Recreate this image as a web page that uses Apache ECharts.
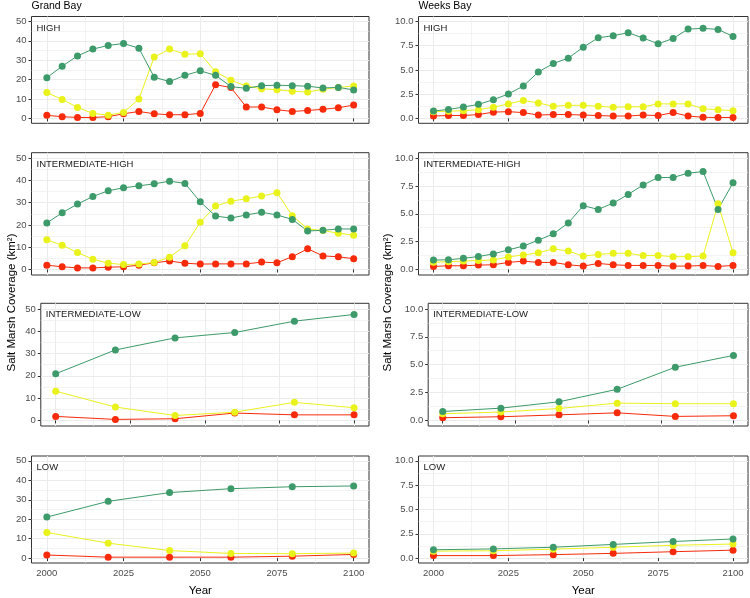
<!DOCTYPE html>
<html>
<head>
<meta charset="utf-8">
<script src="https://cdn.jsdelivr.net/npm/echarts@6/dist/echarts.min.js"></script>
<style>
html,body{margin:0;padding:0;background:#fff;}
#chart{width:750px;height:598px;}
</style>
</head>
<body>
<div id="chart"></div>
<script>
// ---------- DATA ----------
const yearsFine = [2000,2005,2010,2015,2020,2025,2030,2035,2040,2045,2050,2055,2060,2065,2070,2075,2080,2085,2090,2095,2100];
const yearsCoarse = [2000,2020,2040,2060,2080,2100];
const scenarios = ["HIGH","INTERMEDIATE-HIGH","INTERMEDIATE-LOW","LOW"];
const sites = ["Grand Bay","Weeks Bay"];

// Grand Bay
const gbHighGreen  = [21.0,26.9,32.2,35.7,37.6,38.6,36.2,21.2,19.0,22.2,24.5,22.2,16.4,15.5,16.9,17.1,16.9,16.6,15.7,16.0,14.7];
const gbHighYellow = [13.3,9.8,5.7,2.6,1.7,3.1,10.0,31.6,35.7,33.1,33.3,24.0,19.7,16.7,15.3,14.8,14.0,13.6,15.0,16.0,16.7];
const gbHighRed    = [1.6,0.9,0.5,0.5,0.9,2.4,3.6,2.4,1.9,1.9,2.6,17.4,15.9,5.9,5.9,4.5,3.6,4.1,4.7,5.5,6.9];

const gbIHGreen  = [20.9,25.5,29.4,32.8,35.4,36.7,37.6,38.5,39.7,38.7,30.4,24.0,23.1,24.5,25.7,24.5,22.5,17.3,17.6,18.2,18.2];
const gbIHYellow = [13.3,10.9,7.6,4.6,2.8,2.2,2.4,3.1,5.5,10.6,21.2,28.5,30.7,31.8,33.0,34.5,24.2,18.2,17.5,16.3,15.4];
const gbIHRed    = [1.9,1.2,0.7,0.7,1.0,1.2,1.9,3.0,3.8,2.8,2.4,2.5,2.5,2.5,3.3,3.0,5.7,9.3,6.1,5.7,4.8];

const gbILGreen  = [20.9,31.6,37.0,39.4,44.5,47.5];
const gbILYellow = [13.1,6.0,2.2,3.7,8.1,5.7];
const gbILRed    = [1.8,0.45,0.75,3.3,2.5,2.5];

const gbLowGreen  = [21.1,29.2,33.7,35.7,36.7,37.1];
const gbLowYellow = [13.2,7.7,3.9,2.4,2.3,2.6];
const gbLowRed    = [1.6,0.5,0.5,0.5,1.0,1.9];

// Weeks Bay
const wbHighGreen  = [0.76,0.93,1.17,1.45,1.93,2.52,3.34,4.79,5.66,6.21,7.34,8.31,8.52,8.83,8.28,7.69,8.24,9.20,9.28,9.17,8.45];
const wbHighYellow = [0.70,0.75,0.80,0.90,1.15,1.50,1.85,1.60,1.25,1.35,1.35,1.25,1.15,1.20,1.20,1.50,1.50,1.50,1.00,0.90,0.80];
const wbHighRed    = [0.25,0.30,0.30,0.40,0.65,0.70,0.60,0.35,0.40,0.40,0.35,0.30,0.25,0.25,0.35,0.30,0.60,0.25,0.12,0.10,0.10];

const wbIHGreen  = [0.84,0.87,1.00,1.16,1.40,1.76,2.10,2.63,3.20,4.18,5.73,5.40,5.97,6.75,7.60,8.27,8.27,8.66,8.80,5.40,7.79];
const wbIHYellow = [0.65,0.70,0.75,0.80,0.85,1.13,1.30,1.50,1.85,1.65,1.20,1.35,1.45,1.45,1.25,1.25,1.15,1.15,1.20,5.90,1.50];
const wbIHRed    = [0.27,0.33,0.33,0.39,0.42,0.63,0.75,0.63,0.63,0.42,0.30,0.54,0.42,0.36,0.36,0.36,0.30,0.30,0.36,0.27,0.36];

const wbILGreen  = [0.80,1.10,1.67,2.79,4.77,5.83];
const wbILYellow = [0.60,0.75,1.07,1.55,1.50,1.50];
const wbILRed    = [0.24,0.33,0.50,0.68,0.36,0.42];

const wbLowGreen  = [0.86,0.95,1.12,1.41,1.71,1.97];
const wbLowYellow = [0.72,0.76,0.92,1.12,1.32,1.45];
const wbLowRed    = [0.26,0.26,0.36,0.49,0.66,0.82];

// tick labels
const xTicks = [2000,2025,2050,2075,2100];
const xMinor = [2012.5,2037.5,2062.5,2087.5];
const gbYTicks = [0,10,20,30,40,50];
const gbYMinor = [5,15,25,35,45];
const wbYTicks = [0,2.5,5,7.5,10];
const wbYMinor = [1.25,3.75,6.25,8.75];

// ---------- LAYOUT ----------
const colors = {green:'#3d9a6a', yellow:'#eaf21c', red:'#f72a0a'};
const colRight = [369, 748];
const colLeft = [[31.5,31.5,40.8,31.5],[418.5,418.5,428.2,418.5]];
const rowTop = [16.5, 152.7, 303.3, 456];
const rowBottom = [123.3, 275, 426, 568];

const panels = [
  {site:0,row:0,years:yearsFine,g:gbHighGreen,y:gbHighYellow,r:gbHighRed},
  {site:0,row:1,years:yearsFine,g:gbIHGreen,y:gbIHYellow,r:gbIHRed},
  {site:0,row:2,years:yearsCoarse,g:gbILGreen,y:gbILYellow,r:gbILRed},
  {site:0,row:3,years:yearsCoarse,g:gbLowGreen,y:gbLowYellow,r:gbLowRed},
  {site:1,row:0,years:yearsFine,g:wbHighGreen,y:wbHighYellow,r:wbHighRed},
  {site:1,row:1,years:yearsFine,g:wbIHGreen,y:wbIHYellow,r:wbIHRed},
  {site:1,row:2,years:yearsCoarse,g:wbILGreen,y:wbILYellow,r:wbILRed},
  {site:1,row:3,years:yearsCoarse,g:wbLowGreen,y:wbLowYellow,r:wbLowRed}
];

const grid=[], xAxis=[], yAxis=[], series=[], title=[];
const labelColor = '#4d4d4d';
const gridColor = '#ebebeb';
const fontFamily = 'Liberation Sans, Arial, sans-serif';

panels.forEach((p, i) => {
  const gb = p.site === 0;
  const left = colLeft[p.site][p.row];
  grid.push({left: left, top: rowTop[p.row], width: colRight[p.site] - left, height: rowBottom[p.row] - rowTop[p.row],
    show: true, borderColor: '#333333', borderWidth: 1, backgroundColor: '#ffffff'});
  const yMin = gb ? -2.5 : -0.5, yMax = gb ? 52.5 : 10.5;
  const bottomRow = p.row === 3;
  xAxis.push({type:'value', gridIndex:i, min:1995, max:2105, position:'bottom',
    axisLine:{show:false},
    axisTick:{show:true, length:3, lineStyle:{color:'#333333'}, customValues:xTicks},
    axisLabel:{show:bottomRow, customValues:xTicks, color:labelColor, fontSize:9.5, fontFamily:fontFamily, margin:5,
      formatter: v => String(v)},
    splitLine:{show:true, lineStyle:{color:gridColor, width:1}},
    name: bottomRow ? 'Year' : '', nameLocation:'middle', nameGap:22,
    nameTextStyle:{color:'#000', fontSize:11.5, fontFamily:fontFamily}
  });
  xAxis.push({type:'value', gridIndex:i, min:1995, max:2105, position:'top',
    axisLine:{show:false}, axisTick:{show:false, customValues:xMinor},
    axisLabel:{show:false, customValues:xMinor},
    splitLine:{show:true, lineStyle:{color:gridColor, width:0.6}}
  });
  yAxis.push({type:'value', gridIndex:i, min:yMin, max:yMax, position:'left',
    axisLine:{show:false},
    axisTick:{show:true, length:3, lineStyle:{color:'#333333'}, customValues: gb?gbYTicks:wbYTicks},
    axisLabel:{show:true, customValues: gb?gbYTicks:wbYTicks, color:labelColor, fontSize:9.5, fontFamily:fontFamily, margin:5,
      formatter: v => gb ? String(Math.round(v)) : v.toFixed(1)},
    splitLine:{show:true, lineStyle:{color:gridColor, width:1}}
  });
  yAxis.push({type:'value', gridIndex:i, min:yMin, max:yMax, position:'right',
    axisLine:{show:false}, axisTick:{show:false, customValues: gb?gbYMinor:wbYMinor},
    axisLabel:{show:false, customValues: gb?gbYMinor:wbYMinor},
    splitLine:{show:true, lineStyle:{color:gridColor, width:0.6}}
  });
  const xi = i*2, yi = i*2;
  [['r',colors.red],['y',colors.yellow],['g',colors.green]].forEach(([k,c]) => {
    series.push({type:'line', xAxisIndex:xi, yAxisIndex:yi,
      data: p.years.map((yr, j) => [yr, p[k][j]]),
      symbol:'circle', symbolSize:7, showSymbol:true,
      lineStyle:{color:c, width:1}, itemStyle:{color:c},
      emphasis:{disabled:true}, animation:false, z: 3});
  });
  title.push({text: scenarios[p.row], left: left + 5, top: rowTop[p.row] + 6.5,
    textStyle:{fontSize:9.5, fontWeight:'normal', color:'#1a1a1a', fontFamily:fontFamily}, padding:0});
});
title.push({text: sites[0], left: colLeft[0][0], top: 1, padding:0,
  textStyle:{fontSize:10.5, fontWeight:'normal', color:'#000', fontFamily:fontFamily}});
title.push({text: sites[1], left: colLeft[1][0], top: 1, padding:0,
  textStyle:{fontSize:10.5, fontWeight:'normal', color:'#000', fontFamily:fontFamily}});

const chart = echarts.init(document.getElementById('chart'), null, {renderer:'canvas'});
chart.setOption({
  animation:false,
  backgroundColor:'#ffffff',
  title, grid, xAxis, yAxis, series,
  graphic:[
    {type:'text', x:11.5, y:302.5, rotation:Math.PI/2,
     style:{text:'Salt Marsh Coverage (km²)', fill:'#000', fontSize:11.5, fontFamily:fontFamily, textAlign:'center', textVerticalAlign:'middle'}},
    {type:'text', x:388, y:302.5, rotation:Math.PI/2,
     style:{text:'Salt Marsh Coverage (km²)', fill:'#000', fontSize:11.5, fontFamily:fontFamily, textAlign:'center', textVerticalAlign:'middle'}}
  ]
});
</script>
</body>
</html>
